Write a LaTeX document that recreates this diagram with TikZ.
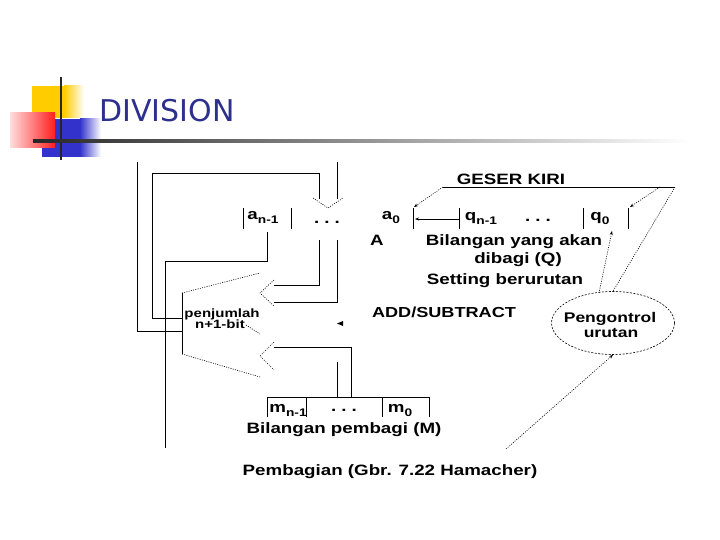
\documentclass[tikz,border=0pt]{standalone}
\usepackage{fontspec}
\usetikzlibrary{shapes.geometric,arrows.meta}
\newfontfamily\dg{Liberation Sans}[FakeStretch=1.25]
\newfontfamily\ttl{DejaVu Sans}
\definecolor{navy}{RGB}{45,48,140}
\definecolor{dyel}{RGB}{255,204,0}
\definecolor{dblu}{RGB}{51,51,204}
\definecolor{dred}{RGB}{255,30,30}
\newcommand\sbs[1]{\raisebox{-4pt}{\fontsize{11}{11}\selectfont #1}}
\begin{document}
\begin{tikzpicture}[x=1pt,y=-1pt,line width=0.8pt,
  dt/.style={line width=0.6pt,dash pattern=on 1pt off 1.3pt},
  txt/.style={inner sep=0pt,anchor=base,font=\dg\bfseries\fontsize{15}{17}\selectfont},
  txtm/.style={txt,font=\dg\bfseries\fontsize{14.5}{16}\selectfont},
  txts/.style={txt,font=\dg\bfseries\fontsize{12}{14}\selectfont},
  arr/.style={-{Stealth[length=4pt,width=3pt]}}]
\useasboundingbox (0,0) rectangle (720,540);
% ---- title decoration
\fill[dyel] (32,86) rectangle (64,118);
\shade[left color=dyel,right color=white] (64,86) rectangle (84,118);
\fill[dblu] (42,119) rectangle (80,157);
\shade[left color=dblu,right color=white] (80,119) rectangle (101,157);
\shade[left color=dred!15,right color=dred] (10,113) rectangle (55,148);
\draw[line width=2pt,black!85] (61,77) -- (61,160);
\shade[left color=black!85,middle color=black!45,right color=white] (33,140) rectangle (690,142.2);
\node[inner sep=0pt,anchor=base west,font=\ttl\fontsize{30}{33}\selectfont,text=navy] (title) at (99,122) {DIVISION};
% ---- register A
\draw (243,208) -- (243,229);
\draw (291,208) -- (291,229);
\node[txt] (an) at (263,220) {a\sbs{n-1}};
\node[txt] (adots) at (327,224) {.\,\,.\,\,.};
\node[txt] (a0) at (391,220) {a\sbs{0}};
\node[txt] (Alab) at (377,245) {A};
% ---- register Q
\draw (413,208) -- (413,229);
\draw (459,208) -- (459,229);
\draw (583,208) -- (583,229);
\draw (628,208) -- (628,229);
\node[txt] (qn) at (481,221) {q\sbs{n-1}};
\node[txt] (qdots) at (538,222) {.\,\,.\,\,.};
\node[txt] (q0) at (600,221) {q\sbs{0}};
\coordinate (qL) at (459,219);
\coordinate (aR) at (415,219);
\draw[arr,line width=0.6pt] (qL) -- (aR);
\node[txt] (geser) at (511,185) {GESER KIRI};
\node[txt] (bil) at (514,245) {Bilangan yang akan};
\node[txt] (dib) at (518,263) {dibagi (Q)};
\node[txt] (set) at (505,284) {Setting berurutan};
\node[txtm] (addsub) at (444,317) {ADD/SUBTRACT};
% ---- control
\node[ellipse,draw,dash pattern=on 2pt off 1.5pt,line width=0.6pt,minimum width=123pt,minimum height=63pt,inner sep=0pt] (ctl) at (613,323) {};
\node[txtm,font=\dg\bfseries\fontsize{14}{16}\selectfont] (ctl1) at (610,322) {Pengontrol};
\node[txtm,font=\dg\bfseries\fontsize{14}{16}\selectfont] (ctl2) at (611,337) {urutan};
\coordinate (gL) at (443,187);
\coordinate (gR) at (675,187);
\coordinate (gM) at (660,187);
\coordinate (aTick) at (414,207);
\coordinate (qTick) at (630,207);
\coordinate (q0b) at (612,231);
\coordinate (ctlq) at (599,293);
\coordinate (startc) at (506,449);
\draw (gL) -- (gR);
\draw[dt,arr] (gL) -- (aTick);
\draw[dt,arr] (gM) -- (qTick);
\draw[dt] (gR) -- (ctl.north);
\draw[dt,arr] (ctlq) -- (q0b);
\draw[dt,arr] (startc) -- (ctl.south);
% ---- adder
\coordinate (adTL) at (182,293);
\coordinate (adBL) at (182,354);
\draw (adTL) -- (adBL);
\draw[dt] (adTL) -- (260,273);
\draw[dt] (adBL) -- (260,377);
\draw[dt] (246,325) -- (260,334);
\node[txts] (pj1) at (222,317) {penjumlah};
\node[txts] (pj2) at (220,328) {n+1-bit};
\fill (337,323.5) -- (343,321) -- (343,326) -- cycle;
% input arrowheads of the adder
\draw[dt] (274,280) -- (260,293) -- (274,306);
\draw[dt] (274,342) -- (260,356) -- (274,370);
% ---- connections
\coordinate (Ltop) at (137,162);
\coordinate (Lin) at (182,331);
\draw (Ltop) |- (Lin);
\coordinate (addOut) at (182,318);
\coordinate (aIn1) at (319,199);
\draw (addOut) -| (152,173) -| (aIn1);
\coordinate (aIn2top) at (337,162);
\coordinate (aIn2) at (337,199);
\draw (aIn2top) -- (aIn2);
\draw[dt] (313,198) -- (328,208) -- (343,198);
\coordinate (anOut) at (267,232);
\coordinate (signEnd) at (165,448);
\draw (anOut) |- (165,261) -- (signEnd);
\coordinate (aOut1) at (319,240);
\coordinate (aOut2) at (337,240);
\coordinate (addIn1a) at (274,285);
\coordinate (addIn1b) at (274,302);
\draw (aOut1) |- (addIn1a);
\draw (aOut2) |- (addIn1b);
\coordinate (mOut1) at (351,397);
\coordinate (mOut2) at (337,397);
\coordinate (addIn2a) at (274,347);
\draw (mOut1) |- (addIn2a);
\draw (mOut2) -- (337,362);
% ---- register M
\draw (267,417) -- (267,397) -- (429,397) -- (429,417);
\draw (306,397) -- (306,417);
\draw (382,397) -- (382,417);
\node[txt] (mn) at (288,412) {m\sbs{n-1}};
\node[txt] (mdots) at (344,411) {.\,\,.\,\,.};
\node[txt] (m0) at (400,412) {m\sbs{0}};
\node[txt] (bpm) at (344,433) {Bilangan pembagi (M)};
\node[txt] (cap) at (390,475) {Pembagian (Gbr. 7.22 Hamacher)};
\end{tikzpicture}
\end{document}
